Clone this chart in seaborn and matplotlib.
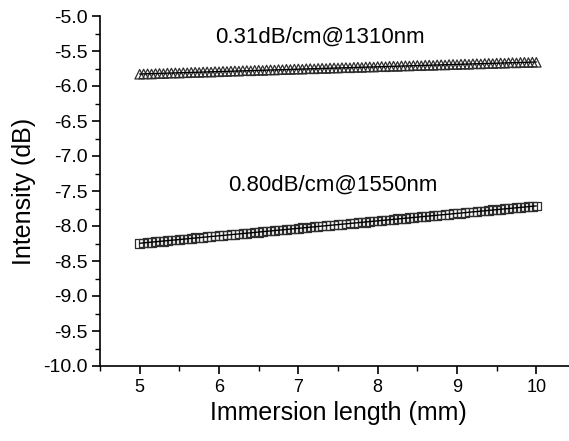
import numpy as np
import pandas as pd
import matplotlib
matplotlib.use("Agg")
import matplotlib.pyplot as plt
from matplotlib.ticker import MultipleLocator, FormatStrFormatter
import seaborn as sns

# ---- data ----
length_mm = [round(5.0 + 0.05 * i, 2) for i in range(101)]

intensity_1310 = [
    -5.832, -5.828, -5.826, -5.829, -5.822, -5.820, -5.823, -5.816, -5.815, -5.812,
    -5.816, -5.809, -5.811, -5.805, -5.803, -5.806, -5.800, -5.798, -5.802, -5.794,
    -5.797, -5.790, -5.792, -5.787, -5.784, -5.788, -5.781, -5.779, -5.783, -5.776,
    -5.774, -5.778, -5.771, -5.769, -5.772, -5.765, -5.767, -5.761, -5.764, -5.758,
    -5.756, -5.760, -5.753, -5.751, -5.755, -5.748, -5.746, -5.750, -5.743, -5.741,
    -5.744, -5.738, -5.736, -5.740, -5.733, -5.731, -5.735, -5.728, -5.726, -5.730,
    -5.723, -5.721, -5.725, -5.718, -5.716, -5.720, -5.713, -5.711, -5.714, -5.708,
    -5.706, -5.710, -5.703, -5.701, -5.705, -5.698, -5.696, -5.700, -5.693, -5.691,
    -5.695, -5.688, -5.686, -5.690, -5.683, -5.681, -5.685, -5.678, -5.676, -5.680,
    -5.673, -5.671, -5.675, -5.668, -5.666, -5.670, -5.663, -5.661, -5.665, -5.659,
    -5.662,
]

intensity_1550 = [
    -8.250, -8.241, -8.232, -8.234, -8.225, -8.216, -8.218, -8.209, -8.200, -8.202,
    -8.193, -8.184, -8.186, -8.177, -8.168, -8.170, -8.161, -8.152, -8.154, -8.145,
    -8.136, -8.138, -8.129, -8.120, -8.122, -8.113, -8.104, -8.106, -8.097, -8.088,
    -8.090, -8.081, -8.072, -8.074, -8.065, -8.056, -8.058, -8.049, -8.040, -8.042,
    -8.033, -8.024, -8.026, -8.017, -8.008, -8.010, -8.001, -7.992, -7.994, -7.985,
    -7.976, -7.978, -7.969, -7.960, -7.962, -7.953, -7.944, -7.946, -7.937, -7.928,
    -7.930, -7.921, -7.912, -7.914, -7.905, -7.896, -7.898, -7.889, -7.880, -7.882,
    -7.873, -7.864, -7.866, -7.857, -7.848, -7.850, -7.841, -7.832, -7.834, -7.825,
    -7.816, -7.818, -7.809, -7.800, -7.802, -7.793, -7.784, -7.786, -7.777, -7.768,
    -7.770, -7.761, -7.752, -7.754, -7.745, -7.736, -7.738, -7.729, -7.720, -7.722,
    -7.713,
]

label_1310 = "0.31dB/cm@1310nm"
label_1550 = "0.80dB/cm@1550nm"
x_label = "Immersion length (mm)"
y_label = "Intensity (dB)"

# ---- style ----
sns.set_theme(style="ticks")
plt.rcParams["font.family"] = ["Liberation Sans", "DejaVu Sans"]
plt.rcParams["axes.unicode_minus"] = False
plt.rcParams["text.color"] = "black"
plt.rcParams["axes.labelcolor"] = "black"
plt.rcParams["xtick.color"] = "black"
plt.rcParams["ytick.color"] = "black"

fig = plt.figure(figsize=(5.69, 4.41), dpi=100)
ax = fig.add_axes([100 / 569, 75 / 441, 476 / 569, 350 / 441])

df1 = pd.DataFrame({"x": length_mm, "y": intensity_1310})
df2 = pd.DataFrame({"x": length_mm, "y": intensity_1550})

edge = "#2e2e2e"
sns.scatterplot(data=df1, x="x", y="y", marker="^", s=46, facecolor="none",
                edgecolor=edge, linewidth=0.9, ax=ax, zorder=2)
sns.scatterplot(data=df2, x="x", y="y", marker="s", s=38, facecolor="none",
                edgecolor=edge, linewidth=0.9, ax=ax, zorder=2)
sns.regplot(data=df1, x="x", y="y", scatter=False, ci=None, color="black",
            line_kws={"linewidth": 1.0, "zorder": 3}, ax=ax)
sns.regplot(data=df2, x="x", y="y", scatter=False, ci=None, color="black",
            line_kws={"linewidth": 1.0, "zorder": 3}, ax=ax)

ax.set_xlim(4.5, 10.5)
ax.set_ylim(-10.0, -5.0)
ax.xaxis.set_major_locator(MultipleLocator(1))
ax.xaxis.set_minor_locator(MultipleLocator(0.5))
ax.yaxis.set_major_locator(MultipleLocator(0.5))
ax.yaxis.set_minor_locator(MultipleLocator(0.25))
ax.yaxis.set_major_formatter(FormatStrFormatter("%.1f"))

for s in ["top", "right"]:
    ax.spines[s].set_visible(False)
for s in ["left", "bottom"]:
    ax.spines[s].set_linewidth(1.2)
    ax.spines[s].set_color("black")

ax.tick_params(which="major", direction="out", length=6, width=1.2,
               colors="black", labelcolor="black", pad=3)
ax.tick_params(which="minor", direction="out", length=3.5, width=1.0,
               colors="black")
ax.tick_params(axis="x", which="major", labelsize=13)
ax.tick_params(axis="y", which="major", labelsize=14)

ax.set_xlabel(x_label, fontsize=18, labelpad=4, color="black")
ax.set_ylabel(y_label, fontsize=18, labelpad=5, color="black")

ax.text(5.95, -5.30, label_1310, fontsize=16, va="center", ha="left", color="black")
ax.text(6.11, -7.41, label_1550, fontsize=16, va="center", ha="left", color="black")

fig.savefig("out.png", dpi=100)
